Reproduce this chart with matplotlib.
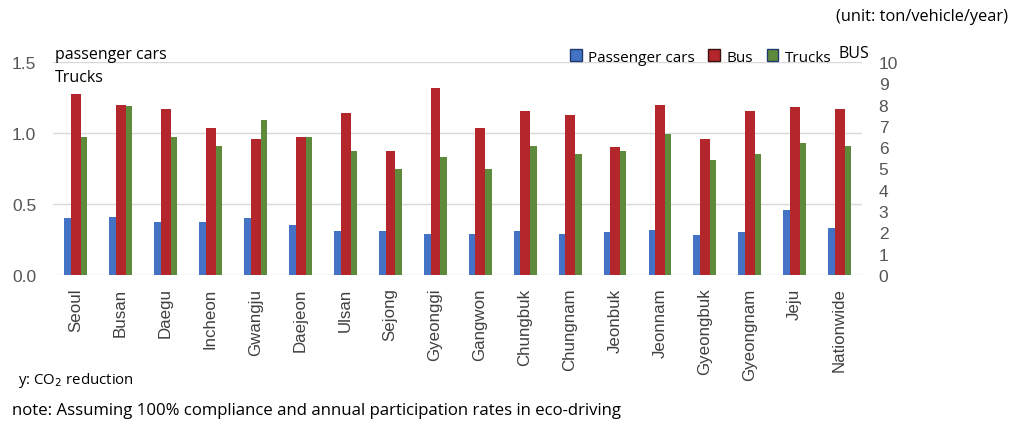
import matplotlib
matplotlib.use("Agg")
import matplotlib.pyplot as plt
import numpy as np
from matplotlib.patches import Patch
from matplotlib import font_manager

regions = ["Seoul", "Busan", "Daegu", "Incheon", "Gwangju", "Daejeon", "Ulsan",
           "Sejong", "Gyeonggi", "Gangwon", "Chungbuk", "Chungnam", "Jeonbuk",
           "Jeonnam", "Gyeongbuk", "Gyeongnam", "Jeju", "Nationwide"]

# CO2 reduction, ton/vehicle/year
passenger_cars = [0.40, 0.41, 0.37, 0.37, 0.40, 0.35, 0.31, 0.31, 0.29, 0.29,
                  0.31, 0.29, 0.30, 0.32, 0.28, 0.30, 0.46, 0.33]
bus = [8.5, 8.0, 7.8, 6.9, 6.4, 6.5, 7.6, 5.8, 8.8, 6.9,
       7.7, 7.5, 6.0, 8.0, 6.4, 7.7, 7.9, 7.8]
trucks = [0.97, 1.19, 0.97, 0.91, 1.09, 0.97, 0.87, 0.75, 0.83, 0.75,
          0.91, 0.85, 0.87, 0.99, 0.81, 0.85, 0.93, 0.91]

left_ticks = [0.0, 0.5, 1.0, 1.5]
right_ticks = list(range(0, 11))

C_CAR = "#4472C4"
C_BUS = "#B3262C"
C_TRUCK = "#5E8A3C"

available = {f.name for f in font_manager.fontManager.ttflist}
label_font = "Open Sans" if "Open Sans" in available else "DejaVu Sans"
tick_font = "Liberation Sans" if "Liberation Sans" in available else "DejaVu Sans"
narrow_font = "Liberation Sans Narrow" if "Liberation Sans Narrow" in available else label_font

fig = plt.figure(figsize=(10.16, 4.27), dpi=100)
ax = fig.add_axes([53 / 1016, 1 - 276 / 427, (862 - 53) / 1016, (276 - 63) / 427])
ax2 = ax.twinx()

x = np.arange(len(regions))
ax.bar(x - 0.175, passenger_cars, width=0.15, color=C_CAR, zorder=2)
ax.bar(x + 0.19, trucks, width=0.14, color=C_TRUCK, zorder=2)
ax2.bar(x + 0.01, bus, width=0.22, color=C_BUS, zorder=2)

ax.set_xlim(-0.5, len(regions) - 0.5)
ax.set_ylim(0, 1.5)
ax2.set_ylim(0, 10)
ax.set_yticks(left_ticks)
ax.set_yticklabels([f"{t:.1f}" for t in left_ticks])
ax2.set_yticks(right_ticks)

ax.grid(axis="y", color="#d9d9d9", linewidth=1.0, zorder=0)
ax.set_axisbelow(True)
for a in (ax, ax2):
    for s in a.spines.values():
        s.set_visible(False)
    a.tick_params(length=0)

ax.set_xticks(x)
ax.set_xticklabels(regions, rotation=90, fontsize=12.2, family=tick_font, color="#404040")
ax.tick_params(axis="x", pad=9)
ax.tick_params(axis="y", labelsize=12.5, labelcolor="#555555", pad=12)
ax2.tick_params(axis="y", labelsize=12.5, labelcolor="#555555", pad=12)
for lbl in ax.get_yticklabels() + ax2.get_yticklabels():
    lbl.set_family(tick_font)

handles = [Patch(facecolor=C_CAR, edgecolor="#1f3a6e", label="Passenger cars"),
           Patch(facecolor=C_BUS, edgecolor="#3a1010", label="Bus"),
           Patch(facecolor=C_TRUCK, edgecolor="#1f3a6e", label="Trucks")]
fig.legend(handles=handles, loc="center left", bbox_to_anchor=(556 / 1016, 1 - 58 / 427),
           ncol=3, frameon=False, handlelength=0.78, handleheight=0.78,
           handletextpad=0.4, columnspacing=0.9,
           prop={"family": label_font, "size": 11})

fig.text(55 / 1016, 1 - 55 / 427, "passenger cars", family=label_font, fontsize=11.5,
         va="center", ha="left")
fig.text(55 / 1016, 1 - 78 / 427, "Trucks", family=label_font, fontsize=11.5,
         va="center", ha="left")
fig.text(838 / 1016, 1 - 54 / 427, "BUS", family=label_font, fontsize=11.5,
         va="center", ha="left")
fig.text(1008 / 1016, 1 - 17 / 427, "(unit: ton/vehicle/year)", family=label_font,
         fontsize=11.8, va="center", ha="right")

fig.text(18 / 1016, 1 - 381 / 427, "y: CO$_2$ reduction", family=narrow_font,
         fontsize=10.8, va="center", ha="left")
fig.text(12 / 1016, 1 - 411 / 427,
         "note: Assuming 100% compliance and annual participation rates in eco-driving",
         family=narrow_font, fontsize=12.1, va="center", ha="left")

fig.savefig("out.png", dpi=100)
